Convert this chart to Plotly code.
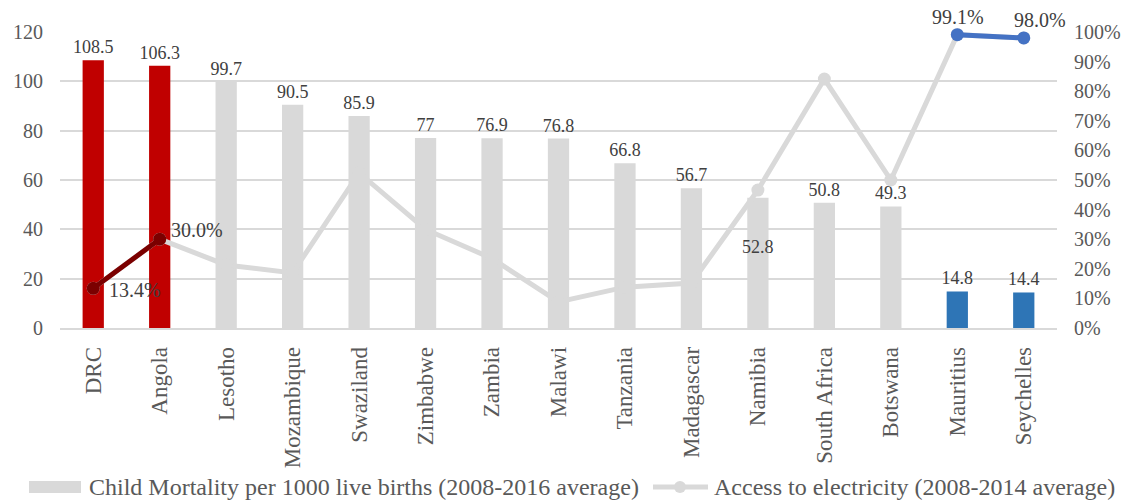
import plotly.graph_objects as go

countries = ["DRC", "Angola", "Lesotho", "Mozambique", "Swaziland", "Zimbabwe", "Zambia",
             "Malawi", "Tanzania", "Madagascar", "Namibia", "South Africa", "Botswana",
             "Mauritius", "Seychelles"]
child_mortality = [108.5, 106.3, 99.7, 90.5, 85.9, 77, 76.9, 76.8, 66.8, 56.7, 52.8, 50.8,
                   49.3, 14.8, 14.4]
electricity = [0.134, 0.300, 0.213, 0.186, 0.524, 0.333, 0.235, 0.088, 0.138, 0.152, 0.466,
               0.841, 0.500, 0.991, 0.980]

low_access = ["DRC", "Angola"]
high_access = ["Mauritius", "Seychelles"]

bar_name = "Child Mortality per 1000 live births (2008-2016 average)"
line_name = "Access to electricity (2008-2014 average)"

FONT = "Liberation Serif"
GRAY = "#D9D9D9"
RED = "#C00000"
DARK_RED = "#7B0000"
BLUE_BAR = "#2E75B6"
BLUE_LINE = "#4472C4"
TXT = "#404040"
AXT = "#595959"

W, H = 1130, 500
ML, MR, MT, MB = 60, 73, 32, 172
PW, PH = W - ML - MR, H - MT - MB


def px(xp):
    return (xp - ML) / PW


def py(yp):
    return (H - MB - yp) / PH


def bar_color(c):
    if c in low_access:
        return RED
    if c in high_access:
        return BLUE_BAR
    return GRAY


fig = go.Figure()

# Bars: gray ones and highlighted ones
for group in ("gray", "hl"):
    xs, ys, cols, txt = [], [], [], []
    for c, v in zip(countries, child_mortality):
        if (group == "gray") != (bar_color(c) == GRAY):
            continue
        xs.append(c)
        ys.append(v)
        cols.append(bar_color(c))
        txt.append("" if c == "Namibia" else f"{v:g}")
    fig.add_trace(go.Bar(
        x=xs, y=ys, marker=dict(color=cols, line=dict(width=0)), width=0.32,
        text=txt, textposition="outside", cliponaxis=False,
        textfont=dict(family=FONT, size=18, color=TXT),
        name=bar_name, showlegend=False,
    ))

# Namibia label sits inside its bar, below the line marker
nam_i = countries.index("Namibia")
fig.add_annotation(x=countries[nam_i], y=child_mortality[nam_i], yref="y",
                   text=f"{child_mortality[nam_i]:g}", showarrow=False, yshift=-49,
                   font=dict(family=FONT, size=18, color=TXT))

# Electricity access line (secondary axis)
fig.add_trace(go.Scatter(
    x=countries, y=electricity, yaxis="y2", mode="lines+markers",
    line=dict(color=GRAY, width=5), marker=dict(color=GRAY, size=13),
    name=line_name, showlegend=False, cliponaxis=False,
))

lo_x = [c for c in countries if c in low_access]
lo_y = [e for c, e in zip(countries, electricity) if c in low_access]
fig.add_trace(go.Scatter(
    x=lo_x, y=lo_y, yaxis="y2", mode="lines+markers",
    line=dict(color=DARK_RED, width=5), marker=dict(color=DARK_RED, size=13),
    showlegend=False, cliponaxis=False,
))

hi_x = [c for c in countries if c in high_access]
hi_y = [e for c, e in zip(countries, electricity) if c in high_access]
fig.add_trace(go.Scatter(
    x=hi_x, y=hi_y, yaxis="y2", mode="lines+markers",
    line=dict(color=BLUE_LINE, width=5), marker=dict(color=BLUE_LINE, size=13),
    showlegend=False, cliponaxis=False,
))

# Percentage labels on the highlighted line points
label_offsets = {
    "DRC": dict(xanchor="left", xshift=14, yshift=-2),
    "Angola": dict(xanchor="left", xshift=9, yshift=9),
    "Mauritius": dict(xanchor="center", xshift=1, yshift=18),
    "Seychelles": dict(xanchor="center", xshift=16, yshift=18),
}
for c, e in zip(countries, electricity):
    if c in label_offsets:
        fig.add_annotation(x=c, y=e, yref="y2", text=f"{e*100:.1f}%", showarrow=False,
                           yanchor="middle", font=dict(family=FONT, size=20, color=TXT),
                           **label_offsets[c])

# Legend keys
LEG_Y = 487
fig.add_shape(type="rect", xref="paper", yref="paper", x0=px(29), x1=px(81),
              y0=py(493), y1=py(481), fillcolor=GRAY, line=dict(width=0))
fig.add_annotation(xref="paper", yref="paper", x=px(87), y=py(LEG_Y), text=bar_name,
                   xanchor="left", yanchor="middle", showarrow=False,
                   font=dict(family=FONT, size=24, color=AXT))
fig.add_shape(type="line", xref="paper", yref="paper", x0=px(653), x1=px(708),
              y0=py(LEG_Y), y1=py(LEG_Y), line=dict(color=GRAY, width=5))
fig.add_shape(type="circle", xref="paper", yref="paper", x0=px(674), x1=px(686),
              y0=py(LEG_Y + 6), y1=py(LEG_Y - 6), fillcolor=GRAY, line=dict(width=0))
fig.add_annotation(xref="paper", yref="paper", x=px(712), y=py(LEG_Y), text=line_name,
                   xanchor="left", yanchor="middle", showarrow=False,
                   font=dict(family=FONT, size=24, color=AXT))

fig.update_layout(
    width=W, height=H,
    margin=dict(l=ML, r=MR, t=MT, b=MB, autoexpand=False),
    plot_bgcolor="white", paper_bgcolor="white",
    barmode="overlay", showlegend=False,
    uniformtext=dict(minsize=18, mode="show"),
    font=dict(family=FONT, color=TXT),
    xaxis=dict(
        categoryorder="array", categoryarray=countries,
        tickangle=-90, tickfont=dict(family=FONT, size=23, color=AXT),
        showline=True, linecolor=GRAY, linewidth=1.5, ticks="",
        range=[-0.5, len(countries) - 0.5], ticklabelstandoff=8, automargin=False,
    ),
    yaxis=dict(
        range=[0, 120], dtick=20, showgrid=True, gridcolor=GRAY, gridwidth=1.5,
        zeroline=False, tickfont=dict(family=FONT, size=20, color=AXT),
        ticklabelstandoff=16, automargin=False,
    ),
    yaxis2=dict(
        range=[0, 1], dtick=0.1, tickformat=".0%", overlaying="y", side="right",
        showgrid=False, zeroline=False,
        tickfont=dict(family=FONT, size=20, color=AXT),
        ticklabelstandoff=16, automargin=False,
    ),
)

fig.write_html("out.html")
